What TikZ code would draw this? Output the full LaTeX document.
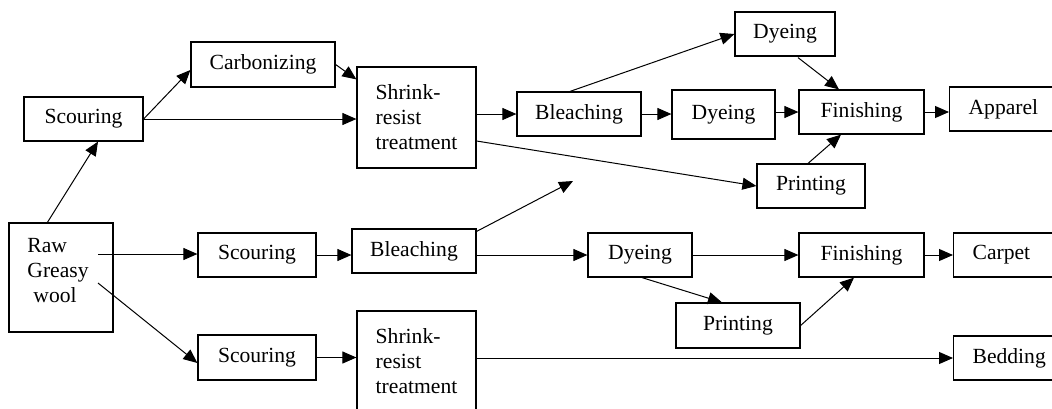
\documentclass[tikz,border=0pt]{standalone}
\usepackage{fontspec}
\setmainfont{Liberation Serif}
\usetikzlibrary{arrows.meta,calc}
\begin{document}
\begin{tikzpicture}[x=0.5pt,y=-0.5pt,
	box/.style 2 args={draw, line width=0.6pt, inner sep=0pt, minimum width=#1*0.5pt, minimum height=#2*0.5pt, align=left, font=\fontsize{10.8}{12.5}\selectfont},
	endbox/.style={draw, line width=0.6pt, anchor=west, inner xsep=9.5pt, inner ysep=0pt, minimum height=22pt, text width=40pt, align=left, font=\fontsize{10.8}{12.5}\selectfont},
	arr/.style={-{Triangle[length=7pt,width=6pt]}, line width=0.5pt}]
	\useasboundingbox (0,0) rectangle (1052,408);
	\clip (0,0) rectangle (1052,408);
	% apparel line
	\node[box={119}{44}] (scour1) at (83.5,119) {Scouring};
	\node[box={144}{45}] (carb) at (263,64.5) {Carbonizing};
	\node[box={119}{101}] (shrink1) at (416.5,117.5) {Shrink-\\resist\\treatment};
	\node[box={124}{44}] (bleach1) at (579,114) {Bleaching};
	\node[box={100}{44}] (dyeT) at (785,34) {Dyeing};
	\node[box={103}{49}] (dyeM) at (723.5,114.5) {Dyeing};
	\node[box={108}{44}] (printT) at (811,186) {Printing};
	\node[box={125}{44}] (fin1) at (861.5,112) {Finishing};
	\node[endbox] (apparel) at (949,109) {Apparel};
	% raw wool
	\node[box={104}{109}] (raw) at (61,277.5) {};
	\node[align=left, inner sep=0pt, font=\fontsize{10.8}{12.5}\selectfont] (rawtext) at (58,271) {Raw\\Greasy\\\hspace{3pt}wool};
	\coordinate (rawA) at (98,254);
	\coordinate (rawB) at (98,283);
	% carpet line
	\node[box={118}{44}] (scour2) at (257,255) {Scouring};
	\node[box={124}{44}] (bleach2) at (414,251) {Bleaching};
	\node[box={104}{44}] (dyeB) at (640,255) {Dyeing};
	\node[box={124}{45}] (printB) at (738,325.5) {Printing};
	\node[box={125}{44}] (fin2) at (861.5,255) {Finishing};
	\node[endbox] (carpet) at (953,255) {Carpet};
	\coordinate (loose) at (573,181);
	% bedding line
	\node[box={118}{45}] (scour3) at (257,357.5) {Scouring};
	\node[box={119}{101}] (shrink2) at (416.5,361.5) {Shrink-\\resist\\treatment};
	\node[endbox] (bedding) at (953,358) {Bedding};

	\draw[arr] ($(raw.north west)+(39,0)$) -- ($(scour1.south)+(14.5,0)$);
	\draw[arr] (scour1.east) -- ($(carb.west)+(0,5.5)$);
	\draw[arr] (scour1.east) -- (scour1.east -| shrink1.west);
	\draw[arr] (carb.east) -- ($(shrink1.north west)+(0,13)$);
	\draw[arr] (bleach1.west -| shrink1.east) -- (bleach1.west);
	\draw[arr] ($(shrink1.east)+(0,23.5)$) -- (printT.west);
	\draw[arr] ($(bleach1.north)+(-9,0)$) -- (dyeT.west);
	\draw[arr] (bleach1.east) -- (bleach1.east -| dyeM.west);
	\draw[arr] (fin1.west -| dyeM.east) -- (fin1.west);
	\draw[arr] ($(dyeT.south)+(13,1)$) -- ($(fin1.north)+(-22.5,0)$);
	\draw[arr] ($(printT.north)+(-3,0)$) -- ($(fin1.south)+(-20.5,0)$);
	\draw[arr] (fin1.east) -- (fin1.east -| apparel.west);

	\draw[arr] (rawA) -- (rawA -| scour2.west);
	\draw[arr] (rawB) -- ($(scour3.west)+(0,5.5)$);
	\draw[arr] (scour2.east) -- (scour2.east -| bleach2.west);
	\draw[arr] (dyeB.west -| bleach2.east) -- (dyeB.west);
	\draw[arr] ($(bleach2.north east)+(0,3)$) -- (loose);
	\draw[arr] (dyeB.east) -- (fin2.west);
	\draw[arr] ($(dyeB.south)+(2,0)$) -- ($(printB.north)+(-16,0)$);
	\draw[arr] (printB.east) -- ($(fin2.south)+(-7.5,0)$);
	\draw[arr] (fin2.east) -- (fin2.east -| carpet.west);

	\draw[arr] (scour3.east) -- (scour3.east -| shrink2.west);
	\draw[arr] (bedding.west -| shrink2.east) -- (bedding.west);
\end{tikzpicture}
\end{document}
